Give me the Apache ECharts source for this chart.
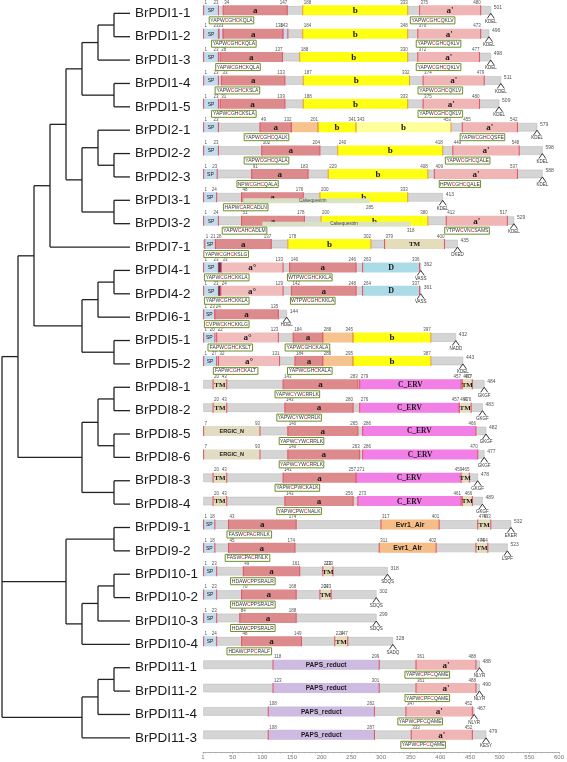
<!DOCTYPE html>
<html><head><meta charset="utf-8">
<script src="https://cdn.jsdelivr.net/npm/echarts/dist/echarts.min.js"></script>
<style>html,body{margin:0;padding:0;background:#fff}#c{width:567px;height:762px}</style>
</head><body><div id="c"></div>
<script>
// ---------- DATA ----------
const proteins = ['BrPDI1-1','BrPDI1-2','BrPDI1-3','BrPDI1-4','BrPDI1-5','BrPDI2-1','BrPDI2-2','BrPDI2-3','BrPDI3-1','BrPDI3-2','BrPDI7-1','BrPDI4-1','BrPDI4-2','BrPDI6-1','BrPDI5-1','BrPDI5-2','BrPDI8-1','BrPDI8-2','BrPDI8-5','BrPDI8-6','BrPDI8-3','BrPDI8-4','BrPDI9-1','BrPDI9-2','BrPDI10-1','BrPDI10-2','BrPDI10-3','BrPDI10-4','BrPDI11-1','BrPDI11-2','BrPDI11-4','BrPDI11-3'];
// printed protein lengths
const lengths = [501,496,498,511,509,579,598,588,413,529,435,362,361,144,432,443,484,483,482,477,478,489,532,523,318,302,299,328,488,490,467,479];
// drawn end of each protein on the ruler
const ends = [485,482,485,502,499,563,572,572,404,524,429,367,367,141,426,438,474,471,477,474,463,471,519,513,311,292,292,320,466,466,457,477];
// C-terminal retention signals
const tails = ['KDEL','KDEL','KDEL','KDEL','KDEL','KDEL','KDEL','KDEL','KDEL','KDEL','DKED','VASS','VASS','HDEL','NADD','KDEL','GKGF','GKGF','GKGF','GKGF','GKGF','GKGF','EKER','LSPF','SDQS','SDQS','SDQS','SADQ','NLYR','NLYR','NLYR','KESY'];
// [row, domain type, drawn start, drawn end, printed start, printed end]
const domains = [
 [0,'SP',1,26,'1','23'],[0,'a',34,142,'34','147'],[0,'b',168,345,'188','333'],[0,'ap',365,468,'375','480'],
 [1,'SP',1,26,'1','23'],[1,'sp2',27,34,'','33'],[1,'a',34,135,'','138'],[1,'sp2',135,143,'','143'],[1,'b',168,345,'184','348'],[1,'ap',362,468,'370','473'],
 [2,'SP',1,26,'1','23'],[2,'a',29,134,'28','137'],[2,'b',163,345,'188','330'],[2,'ap',362,466,'372','477'],
 [3,'SP',1,26,'1','23'],[3,'a',31,138,'33','133'],[3,'b',169,348,'187','332'],[3,'ap',371,474,'374','479'],
 [4,'SP',1,26,'1','23'],[4,'a',29,138,'31','139'],[4,'b',169,345,'188','333'],[4,'ap',371,466,'375','480'],
 [5,'SP',1,26,'1','23'],[5,'a',96,149,'49','132'],[5,'or',149,194,'','201'],[5,'b',194,258,'','341'],[5,'bp',258,418,'343','453'],[5,'ap',437,530,'455','542'],
 [6,'SP',1,26,'1','23'],[6,'a',99,197,'102','204'],[6,'b',227,404,'240','418'],[6,'ap',421,533,'449','548'],
 [7,'SP',1,24,'1','23'],[7,'a',82,177,'91','183'],[7,'b',211,379,'229','408'],[7,'ap',390,530,'409','537'],
 [8,'SP',1,23,'1','24'],[8,'a',65,169,'48','176'],[8,'b',197,345,'200','333'],[8,'cal',68,281,'','285'],
 [9,'SP',1,26,'1','24'],[9,'a',65,171,'51','178'],[9,'b',199,379,'200','380'],[9,'ap',410,513,'412','517'],[9,'cal',100,350,'','318'],
 [10,'SP',3,21,'1','21'],[10,'a',21,115,'28','137'],[10,'b',143,283,'178','302'],[10,'TM',306,407,'379','400'],
 [11,'SP',1,26,'1','23'],[11,'dk',26,31,'',''],[11,'a0',31,135,'33','133'],[11,'a',146,258,'140','246'],[11,'D',269,365,'263','336'],
 [12,'SP',1,26,'1','23'],[12,'dk',26,30,'',''],[12,'a0',30,135,'24','129'],[12,'a',149,258,'142','248'],[12,'D',269,365,'264','337'],
 [13,'SP',1,20,'1','23'],[13,'a',20,127,'24','135'],
 [14,'SP',1,20,'1','20'],[14,'a0',23,127,'22','123'],[14,'a',152,202,'184',''],[14,'or',202,253,'288','345'],[14,'b',253,384,'','397'],
 [15,'SP',1,23,'1','27'],[15,'a0',26,129,'32','131'],[15,'a',155,202,'184',''],[15,'or',202,253,'288','295'],[15,'b',253,384,'','387'],
 [16,'TM',17,40,'20','43'],[16,'a',135,261,'143','283'],[16,'CERV',264,435,'279','457'],[16,'TM',437,454,'460','477'],
 [17,'TM',17,40,'20','43'],[17,'a',138,253,'143','280'],[17,'CERV',264,432,'276','457'],[17,'TM',432,452,'461','476'],
 [18,'ERGIC',1,96,'7','93'],[18,'a',143,261,'140','265'],[18,'CERV',269,460,'286','466'],
 [19,'ERGIC',1,96,'7','93'],[19,'a',143,264,'140','263'],[19,'CERV',269,463,'286','470'],
 [20,'TM',17,40,'20','43'],[20,'a',135,258,'141','257'],[20,'CERV',258,437,'271','459'],[20,'TM',435,449,'','465'],
 [21,'TM',17,40,'20','43'],[21,'a',138,253,'143','256'],[21,'CERV',261,435,'273','461'],[21,'TM',437,454,'','466'],
 [22,'SP',1,20,'1','18'],[22,'a',43,157,'43','174'],[22,'Evr',300,398,'317','401'],[22,'TM',463,485,'476','493'],
 [23,'SP',1,20,'1','18'],[23,'a',43,155,'45','174'],[23,'Evr',297,393,'311','402'],[23,'TM',460,480,'474','494'],
 [24,'SP',1,23,'1','23'],[24,'a',68,163,'49','161'],[24,'TM',202,219,'213','233'],
 [25,'SP',1,23,'1','23'],[25,'a',65,157,'70','168'],[25,'TM',197,216,'204','223'],
 [26,'SP',1,23,'1','23'],[26,'a',62,157,'84','188'],
 [27,'SP',1,23,'1','24'],[27,'a',65,166,'48','149'],[27,'TM',222,244,'224','247'],
 [28,'PAPS',118,297,'118','299'],[28,'ap',359,460,'361','488'],
 [29,'PAPS',118,297,'123','301'],[29,'ap',359,460,'361','488'],
 [30,'PAPS',110,289,'108','282'],[30,'ap',342,454,'347','452'],
 [31,'PAPS',110,289,'108','287'],[31,'ap',351,454,'333','452']
];
// [row, drawn centre, motif]
const motifs = [
 [0,48,'YAPWCGHCKQLA'],[0,387,'YAPWCGHCQKLV'],[1,52,'YAPWCGHCKQLA'],[1,397,'YAPWCGHCQKLV'],
 [2,59,'YAPWCGHCKQLA'],[2,397,'YAPWCGHCQKLV'],[3,58,'YAPWCGHCKSLA'],[3,400,'YAPWCGHCQKLV'],
 [4,52,'YAPWCGHCKSLA'],[4,400,'YAPWCGHCQKLV'],[5,107,'YAPWCGHCQALK'],[5,471,'YAPWCGHCQSFE'],
 [6,107,'YAPWCGHCQALA'],[6,446,'YAPWCGHCQALE'],[7,92,'NPWCGHCQALA'],[7,433,'HPWCGHCQALE'],
 [8,72,'HAPWCARCADLN'],[9,70,'YAPWCAHCADLM'],[9,445,'YTPWCVNCSAMS'],[10,39,'YAPWCGHCKSLG'],
 [11,40,'YAPWCGHCKKLA'],[11,180,'WTPWCGHCKKLA'],[12,40,'YAPWCGHCKKLA'],[12,185,'WTPWCGHCKKLA'],
 [13,40,'CVPWCKHCKKLG'],[14,46,'FAPWCGHCKSLT'],[14,176,'YAPWCGHCKALA'],[15,55,'FAPWCGHCKALT'],[15,180,'YAPWCGHCKALA'],
 [16,159,'YAPWCYWCRRLK'],[17,162,'YAPWCYWCRRLK'],[18,166,'YAPWCYWCRRLK'],[19,166,'YAPWCYWCRRLK'],
 [20,159,'YAPWCPWCKALK'],[21,162,'YAPWCPWCNALK'],[22,78,'FASWCPACRNLK'],[23,75,'FASWCPACRNLK'],
 [24,84,'HDAWCPPSRALR'],[25,84,'HDAWCPPSRALR'],[26,84,'HDAWCPPSRALR'],[27,78,'HDAWCPPCRALF'],
 [28,378,'YAPWCPFCQAME'],[29,378,'YAPWCPFCQAME'],[30,366,'YAPWCPFCQAME'],[31,371,'YAPWCPFCQAME']
];
const tickLabels = ['1','50','100','150','200','250','300','350','400','450','500','550','600'];
// tree topology
const tree = [
  [
    [
      [
        [
          [[['BrPDI1-1','BrPDI1-2'],'BrPDI1-3'],['BrPDI1-4','BrPDI1-5']],
          [['BrPDI2-1',['BrPDI2-2','BrPDI2-3']],['BrPDI3-1','BrPDI3-2']]
        ],
        'BrPDI7-1'
      ],
      [[['BrPDI4-1','BrPDI4-2'],'BrPDI6-1'],['BrPDI5-1','BrPDI5-2']]
    ],
    [[['BrPDI8-1','BrPDI8-2'],['BrPDI8-5','BrPDI8-6']],['BrPDI8-3','BrPDI8-4']]
  ],
  [['BrPDI9-1','BrPDI9-2'],[[['BrPDI10-1','BrPDI10-2'],'BrPDI10-3'],'BrPDI10-4']],
  [[['BrPDI11-1','BrPDI11-2'],'BrPDI11-4'],'BrPDI11-3']
];

// ---------- STYLES ----------
const SERIF = "'Liberation Serif','Times New Roman',serif";
const SANS = "'Liberation Sans',Arial,sans-serif";
const TYPES = {
  SP:{fill:'#c3dbec',label:'SP',font:'5px '+SANS},
  sp2:{fill:'#c3dbec'},
  dk:{fill:'#5b3a5e',noEdge:true},
  a:{fill:'#dd8a8c',label:'a',font:'bold 9px '+SERIF},
  ap:{fill:'#f0b6b6',label:"a'",font:'bold 9px '+SERIF},
  a0:{fill:'#f1bcbc',label:'a°',font:'bold 9px '+SERIF},
  b:{fill:'#ffff14',label:'b',font:'bold 9px '+SERIF,edge:'#eea040'},
  bp:{fill:'#ffff9c',label:'b',font:'bold 9px '+SERIF,edge:'#eea040'},
  or:{fill:'#f6c28e'},
  D:{fill:'#acdbe8',label:'D',font:'bold 8px '+SERIF},
  TM:{fill:'#e5dcbc',label:'TM',font:'bold 7px '+SERIF},
  CERV:{fill:'#f27fe6',label:'C_ERV',font:'bold 7.5px '+SERIF},
  ERGIC:{fill:'#e2dcc2',label:'ERGIC_N',font:'bold 5.5px '+SANS},
  Evr:{fill:'#f7bd86',label:'Evr1_Alr',font:'bold 7px '+SANS},
  PAPS:{fill:'#cdbbe1',label:'PAPS_reduct',font:'bold 6.5px '+SANS}
};
const EDGE = '#e05a6a';
const NUMFONT = '4.5px ' + SANS;

// ---------- TREE LAYOUT ----------
const segs = [];
function layout(node){
  if (typeof node === 'string') return {y: proteins.indexOf(node), h: 0};
  const ch = node.map(layout);
  const h = Math.max(...ch.map(c => c.h)) + 1;
  const x = 8 - h;
  segs.push([x, ch[0].y, x, ch[ch.length-1].y]);
  ch.forEach(c => segs.push([x, c.y, 8 - c.h, c.y]));
  return {y: (ch[0].y + ch[ch.length-1].y) / 2, h};
}
layout(tree);

// ---------- RENDERERS ----------
function renderBackbone(params, api){
  const i = params.dataIndex;
  const p0 = api.coord([1, i]), p1 = api.coord([ends[i], i]);
  const yc = p0[1];
  return {type:'group', children:[
    {type:'rect', shape:{x:p0[0], y:yc-4, width:p1[0]-p0[0], height:8},
     style:{fill:'#d5d5d5', stroke:'#b5b5b5', lineWidth:0.5}},
    {type:'text', x:p1[0]+3, y:yc-3, style:{text:String(lengths[i]), font:'5px '+SANS, fill:'#555', align:'left', verticalAlign:'middle'}},
    {type:'polyline', shape:{points:[[p1[0]-3.5,yc+8],[p1[0],yc+3],[p1[0]+3.5,yc+8]]},
     style:{fill:null, stroke:'#222', lineWidth:0.9}},
    {type:'text', x:p1[0], y:yc+11, style:{text:tails[i], font:'4.5px '+SANS, fill:'#333', align:'center', verticalAlign:'middle'}}
  ]};
}
function renderDomain(params, api){
  const d = domains[params.dataIndex];
  const row = d[0], type = d[1];
  const p0 = api.coord([d[2], row]), p1 = api.coord([d[3], row]);
  const yc = p0[1];
  const w = p1[0] - p0[0];
  const ch = [];
  if (type === 'cal') {
    ch.push({type:'rect', shape:{x:p0[0], y:yc+1, width:w, height:5}, style:{fill:'#d8e3c8', opacity:0.95}});
    ch.push({type:'text', x:p0[0]+w*0.55, y:yc+3.5, style:{text:'Calsequestrin', font:'4.5px '+SANS, fill:'#444', align:'center', verticalAlign:'middle'}});
    if (d[5]) ch.push({type:'text', x:p1[0], y:yc+10, style:{text:d[5], font:NUMFONT, fill:'#555', align:'center', verticalAlign:'middle'}});
    return {type:'group', children:ch};
  }
  const st = TYPES[type];
  ch.push({type:'rect', shape:{x:p0[0], y:yc-5, width:w, height:10}, style:{fill:st.fill}});
  if (!st.noEdge) {
    const ec = st.edge || EDGE;
    ch.push({type:'line', shape:{x1:p0[0], y1:yc-5, x2:p0[0], y2:yc+5}, style:{stroke:ec, lineWidth:1.1}});
    ch.push({type:'line', shape:{x1:p1[0], y1:yc-5, x2:p1[0], y2:yc+5}, style:{stroke:ec, lineWidth:1.1}});
  }
  if (st.label) ch.push({type:'text', x:p0[0]+w/2, y:yc+0.5, style:{text:st.label, font:st.font, fill:'#1a1a1a', align:'center', verticalAlign:'middle'}});
  if (d[4]) ch.push({type:'text', x:p0[0]+1, y:yc-7.5, style:{text:d[4], font:NUMFONT, fill:'#555', align:'left', verticalAlign:'middle'}});
  if (d[5]) ch.push({type:'text', x:p1[0], y:yc-7.5, style:{text:d[5], font:NUMFONT, fill:'#555', align:'right', verticalAlign:'middle'}});
  return {type:'group', children:ch};
}
function renderMotif(params, api){
  const m = motifs[params.dataIndex];
  const p = api.coord([m[1], m[0]]);
  const wid = m[2].length * 3.3 + 5;
  const rich = m[2].replace(/C/g, '{r|C}');
  return {type:'group', children:[
    {type:'rect', shape:{x:p[0]-wid/2, y:p[1]+6.5, width:wid, height:7}, style:{fill:'#fff', stroke:'#6f8f2a', lineWidth:1}},
    {type:'text', x:p[0], y:p[1]+10.2, style:{text:rich, font:'5px '+SANS, fill:'#333', align:'center', verticalAlign:'middle',
      rich:{r:{fill:'#d42020', font:'5px '+SANS}}}}
  ]};
}
function renderSeg(params, api){
  const s = segs[params.dataIndex];
  const a = api.coord([s[0], s[1]]), b = api.coord([s[2], s[3]]);
  return {type:'line', shape:{x1:a[0], y1:a[1], x2:b[0], y2:b[1]}, style:{stroke:'#222', lineWidth:1.3}};
}
function renderLabel(params, api){
  const p = api.coord([8, params.dataIndex]);
  return {type:'text', x:p[0]+5, y:p[1], style:{text:proteins[params.dataIndex], font:'13.5px '+SANS, fill:'#1a1a1a', align:'left', verticalAlign:'middle'}};
}

// ---------- CHART ----------
const chart = echarts.init(document.getElementById('c'), null, {renderer:'canvas'});
const yCommon = {type:'value', inverse:true, min:-0.4, max:31.735, show:false};
chart.setOption({
  animation:false,
  backgroundColor:'#fff',
  grid:[
    {left:203, width:357, top:1, height:751},
    {left:2, width:128, top:4, height:751}
  ],
  xAxis:[
    {gridIndex:0, type:'value', min:0, max:600, interval:50, position:'bottom',
     axisLine:{onZero:false, lineStyle:{color:'#999', width:0.8}},
     axisTick:{length:2, lineStyle:{color:'#999', width:0.6}},
     minorTick:{show:true, splitNumber:5, length:1.5, lineStyle:{color:'#aaa', width:0.5}},
     splitLine:{show:false},
     axisLabel:{fontSize:6, color:'#777', margin:2, formatter:v => tickLabels[Math.round(v/50)]}},
    {gridIndex:1, type:'value', min:0, max:8, show:false}
  ],
  yAxis:[Object.assign({gridIndex:0}, yCommon), Object.assign({gridIndex:1}, yCommon)],
  series:[
    {type:'custom', xAxisIndex:0, yAxisIndex:0, clip:false, silent:true, renderItem:renderBackbone,
     encode:{x:[0,2], y:1}, data: ends.map((e,i) => [1, i, e])},
    {type:'custom', xAxisIndex:0, yAxisIndex:0, clip:false, silent:true, renderItem:renderDomain,
     encode:{x:[0,2], y:1}, data: domains.map(d => [d[2], d[0], d[3]])},
    {type:'custom', xAxisIndex:0, yAxisIndex:0, clip:false, silent:true, renderItem:renderMotif,
     encode:{x:0, y:1}, data: motifs.map(m => [m[1], m[0]])},
    {type:'custom', xAxisIndex:1, yAxisIndex:1, clip:false, silent:true, renderItem:renderSeg,
     encode:{x:[0,2], y:[1,3]}, data: segs},
    {type:'custom', xAxisIndex:1, yAxisIndex:1, clip:false, silent:true, renderItem:renderLabel,
     encode:{x:0, y:1}, data: proteins.map((p,i) => [8, i])}
  ]
});
</script></body></html>
